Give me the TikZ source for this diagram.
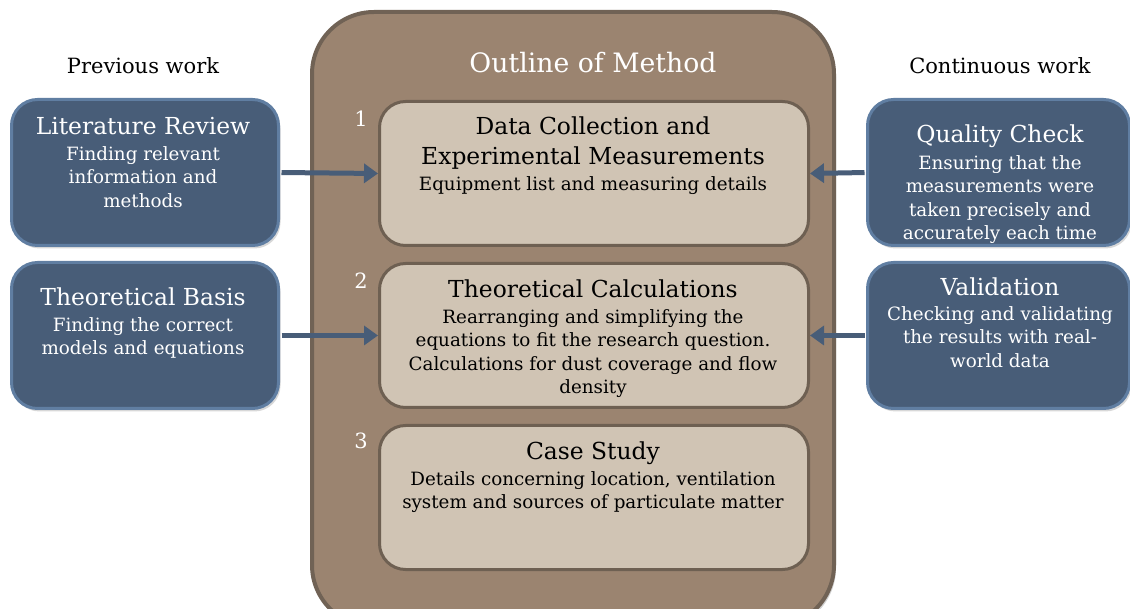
\documentclass[tikz,border=0pt]{standalone}
\usepackage{fontspec}
\setmainfont{DejaVu Serif}
\usetikzlibrary{arrows.meta,shadows}
\definecolor{bigfill}{RGB}{155,132,112}
\definecolor{bigdraw}{RGB}{112,98,85}
\definecolor{infill}{RGB}{208,196,180}
\definecolor{indraw}{RGB}{110,96,82}
\definecolor{bluefill}{RGB}{72,93,120}
\definecolor{bluedraw}{RGB}{96,126,162}
\newcommand\ttlfont{\fontsize{23.4}{30}\selectfont}
\newcommand\subfont{\fontsize{18.3}{23.2}\selectfont}
\tikzset{
  bigbox/.style={draw=bigdraw, fill=bigfill, line width=4pt, rounded corners=62pt,
    drop shadow={shadow xshift=2pt, shadow yshift=-3pt, opacity=0.35}},
  stagebox/.style={draw=indraw, fill=infill, line width=3pt, rounded corners=26pt,
    minimum width=429pt, minimum height=144pt, anchor=north west, inner sep=0pt},
  sidebox/.style={draw=bluedraw, fill=bluefill, line width=3pt, rounded corners=26pt,
    minimum width=267pt, minimum height=146pt, anchor=north west, inner sep=0pt,
    drop shadow={shadow xshift=2pt, shadow yshift=-3pt, opacity=0.3}},
  ttl/.style={font=\ttlfont, align=center, anchor=north, inner sep=0pt},
  sub/.style={font=\subfont, align=center, anchor=north, inner sep=0pt},
  hdr/.style={font=\fontsize{21}{25}\selectfont, anchor=base, inner sep=0pt},
  num/.style={font=\fontsize{21}{25}\selectfont, text=white, anchor=base, inner sep=0pt},
  arr/.style={draw=bluefill, line width=5pt, -{Triangle[length=14pt,width=19pt]}, shorten <=1.5pt},
}
\begin{document}
\begin{tikzpicture}[x=1pt,y=-1pt]
\useasboundingbox (0,0) rectangle (1130,609);
\fill[white] (0,0) rectangle (1130,609);
% big outline box
\node[bigbox, minimum width=522pt, minimum height=615pt, anchor=north west, inner sep=0pt] (outline) at (310,10) {};
\node[font=\fontsize{26.7}{30}\selectfont, text=white, anchor=base, inner sep=0pt] (otitle) at (593,73) {Outline of Method};
% headers
\node[hdr] (prev) at (143,74) {Previous work};
\node[hdr] (cont) at (1000,74) {Continuous work};
% stage boxes
\node[stagebox] (s1) at (378,100) {};
\node[stagebox] (s2) at (378,262) {};
\node[stagebox] (s3) at (378,424) {};
\node[num] (n1) at (361,127) {1};
\node[num] (n2) at (361,289) {2};
\node[num] (n3) at (361,449) {3};
\node[ttl] (s1t) at (593,117) {Data Collection and\\Experimental Measurements};
\node[sub] (s1s) at (593,176.5) {Equipment list and measuring details};
\node[ttl] (s2t) at (593,280) {Theoretical Calculations};
\node[sub] (s2s) at (593,309.5) {Rearranging and simplifying the\\equations to fit the research question.\\Calculations for dust coverage and flow\\density};
\node[ttl] (s3t) at (593,442) {Case Study};
\node[sub] (s3s) at (593,471.5) {Details concerning location, ventilation\\system and sources of particulate matter};
% left boxes
\node[sidebox] (lr) at (10,98) {};
\node[sidebox] (tb) at (10,261) {};
\node[ttl, text=white] (lrt) at (143,117) {Literature Review};
\node[sub, text=white] (lrs) at (143,146.5) {Finding relevant\\information and\\methods};
\node[ttl, text=white] (tbt) at (143,288) {Theoretical Basis};
\node[sub, text=white] (tbs) at (143,317.5) {Finding the correct\\models and equations};
% right boxes
\node[sidebox, minimum width=262pt] (qc) at (866,98) {};
\node[sidebox, minimum width=262pt] (va) at (866,261) {};
\node[ttl, text=white] (qct) at (1000,125) {Quality Check};
\node[sub, text=white] (qcs) at (1000,155.5) {Ensuring that the\\measurements were\\taken precisely and\\accurately each time};
\node[ttl, text=white] (vat) at (1000,278) {Validation};
\node[sub, text=white] (vas) at (1000,306.5) {Checking and validating\\the results with real-\\world data};
% arrows
\draw[arr] (lr.east) -- (s1.west);
\draw[arr] (tb.east) -- (s2.west);
\draw[arr] (qc.west) -- (s1.east);
\draw[arr] (va.west) -- (s2.east);
\end{tikzpicture}
\end{document}
